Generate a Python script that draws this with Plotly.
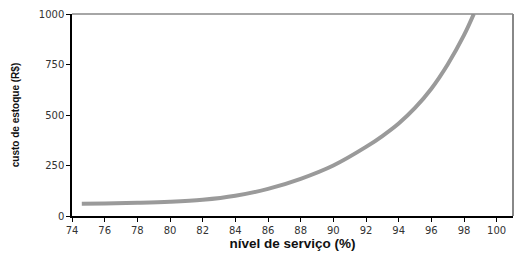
import plotly.graph_objects as go

nivel_servico = [74.6, 76, 78, 80, 82, 84, 86, 88, 90, 92, 93, 94, 95, 96, 97, 98, 98.6]
custo_estoque = [61, 62, 65, 70, 80, 100, 134, 184, 250, 342, 396, 458, 535, 630, 750, 895, 1000]

x_ticks = list(range(74, 101, 2))
y_ticks = [0, 250, 500, 750, 1000]

fig = go.Figure()
fig.add_trace(go.Scatter(
    x=nivel_servico, y=custo_estoque, mode="lines",
    line=dict(color="#9a9a9a", width=4, shape="spline", smoothing=1.0),
    showlegend=False, cliponaxis=True,
))

tick_font = dict(family="DejaVu Sans", size=10, color="#333")
fig.update_layout(
    width=527, height=261,
    margin=dict(l=72, r=14, t=14, b=45, autoexpand=False),
    paper_bgcolor="white", plot_bgcolor="white",
    xaxis=dict(
        range=[74, 101], tickvals=x_ticks, ticktext=[str(v) for v in x_ticks],
        showgrid=False, zeroline=False, showline=True, linecolor="black", linewidth=1.5,
        ticks="outside", ticklen=4, tickcolor="black", tickfont=tick_font, automargin=False,
        title=dict(text="nível de serviço (%)", font=dict(family="Liberation Sans", size=13.5, color="#111", weight="bold"), standoff=1),
    ),
    yaxis=dict(
        range=[0, 1000], tickvals=y_ticks, ticktext=[str(v) for v in y_ticks],
        showgrid=False, zeroline=False, showline=True, linecolor="black", linewidth=1.5,
        ticks="outside", ticklen=4, tickcolor="black", tickfont=tick_font, automargin=False,
        title=dict(text="custo de estoque (R$)", font=dict(family="Liberation Sans", size=10, color="#111", weight="bold"), standoff=17),
    ),
    shapes=[
        dict(type="line", xref="paper", yref="paper", x0=0, x1=1, y0=1, y1=1,
             line=dict(color="#888", width=1.5)),
        dict(type="line", xref="paper", yref="paper", x0=1, x1=1, y0=0, y1=1,
             line=dict(color="#888", width=2)),
    ],
)

fig.write_html("out.html")
